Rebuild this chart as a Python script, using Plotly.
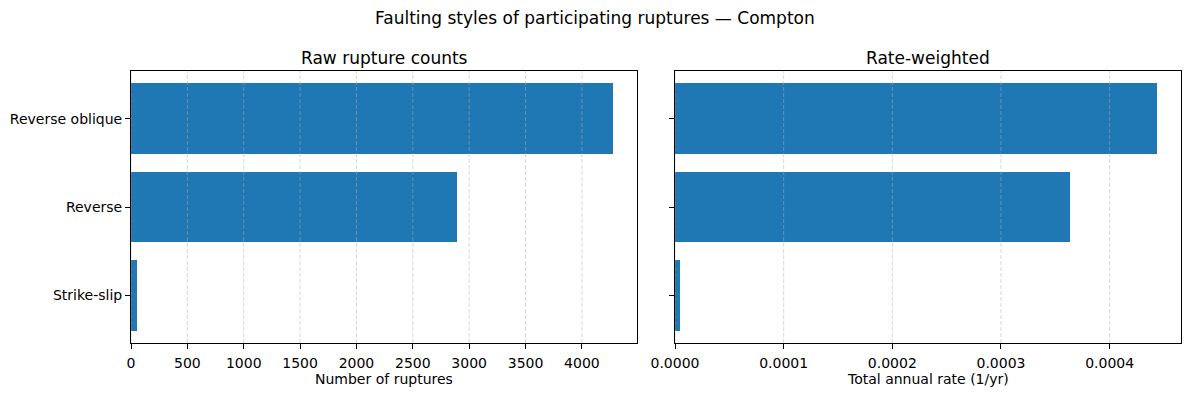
import plotly.graph_objects as go

categories = ["Strike-slip", "Reverse", "Reverse oblique"]
raw_counts = [55, 2895, 4275]
rate_weighted = [5.0e-6, 3.638e-4, 4.435e-4]
count_ticks = [0, 500, 1000, 1500, 2000, 2500, 3000, 3500, 4000]
rate_ticks = [0.0, 0.0001, 0.0002, 0.0003, 0.0004]

W, H = 1189, 396
BLUE = "#1f77b4"
FONT = "DejaVu Sans"

xl = [131 / W, 637 / W]
xr = [675 / W, 1181 / W]
yd = [1 - 343 / H, 1 - 71 / H]

fig = go.Figure()
fig.add_trace(go.Bar(y=categories, x=raw_counts, orientation="h", width=0.8,
                     marker=dict(color=BLUE, line=dict(width=0)),
                     xaxis="x", yaxis="y", showlegend=False))
fig.add_trace(go.Bar(y=categories, x=rate_weighted, orientation="h", width=0.8,
                     marker=dict(color=BLUE, line=dict(width=0)),
                     xaxis="x2", yaxis="y2", showlegend=False))

axis_common = dict(showline=True, linecolor="black", linewidth=1, mirror=True,
                   ticks="outside", ticklen=5, tickwidth=1, tickcolor="black",
                   showgrid=False, zeroline=False, automargin=False,
                   tickfont=dict(family=FONT, size=14, color="black"))

cmax = max(raw_counts) * 1.05
rmax = max(rate_weighted) * 1.05

fig.update_layout(
    width=W, height=H,
    margin=dict(l=0, r=0, t=0, b=0, autoexpand=False),
    paper_bgcolor="white", plot_bgcolor="white",
    bargap=0,
    xaxis=dict(domain=xl, anchor="y", range=[0, cmax], tickmode="array", ticklabelstandoff=2,
               tickvals=count_ticks, ticktext=[str(t) for t in count_ticks], **axis_common),
    yaxis=dict(domain=yd, anchor="x", range=[-0.54, 2.54], type="category",
               categoryorder="array", categoryarray=categories, **axis_common),
    xaxis2=dict(domain=xr, anchor="y2", range=[0, rmax], tickmode="array", ticklabelstandoff=2,
                tickvals=rate_ticks, ticktext=[f"{t:.4f}" for t in rate_ticks], **axis_common),
    yaxis2=dict(domain=yd, anchor="x2", range=[-0.54, 2.54], type="category",
                categoryorder="array", categoryarray=categories,
                showticklabels=False, **axis_common),
)

# dashed vertical grid lines drawn above bars
shapes = []
for t in count_ticks:
    shapes.append(dict(type="line", xref="x", yref="y domain", x0=t, x1=t, y0=0, y1=1,
                       line=dict(color="rgba(176,176,176,0.5)", width=1, dash="4px,2px"),
                       layer="above"))
for t in rate_ticks:
    shapes.append(dict(type="line", xref="x2", yref="y2 domain", x0=t, x1=t, y0=0, y1=1,
                       line=dict(color="rgba(176,176,176,0.5)", width=1, dash="4px,2px"),
                       layer="above"))
fig.update_layout(shapes=shapes)

ann = []
ann.append(dict(text="Faulting styles of participating ruptures — Compton", x=0.5, y=1 - 18 / H,
                xref="paper", yref="paper", showarrow=False, xanchor="center", yanchor="middle",
                font=dict(family=FONT, size=17, color="black")))
ann.append(dict(text="Raw rupture counts", x=(xl[0] + xl[1]) / 2, y=1 - 58 / H,
                xref="paper", yref="paper", showarrow=False, xanchor="center", yanchor="middle",
                font=dict(family=FONT, size=17, color="black")))
ann.append(dict(text="Rate-weighted", x=(xr[0] + xr[1]) / 2, y=1 - 58 / H,
                xref="paper", yref="paper", showarrow=False, xanchor="center", yanchor="middle",
                font=dict(family=FONT, size=17, color="black")))
ann.append(dict(text="Number of ruptures", x=(xl[0] + xl[1]) / 2, y=1 - 379 / H,
                xref="paper", yref="paper", showarrow=False, xanchor="center", yanchor="middle",
                font=dict(family=FONT, size=14, color="black")))
ann.append(dict(text="Total annual rate (1/yr)", x=(xr[0] + xr[1]) / 2, y=1 - 379 / H,
                xref="paper", yref="paper", showarrow=False, xanchor="center", yanchor="middle",
                font=dict(family=FONT, size=14, color="black")))
fig.update_layout(annotations=ann)

fig.write_html("out.html")
